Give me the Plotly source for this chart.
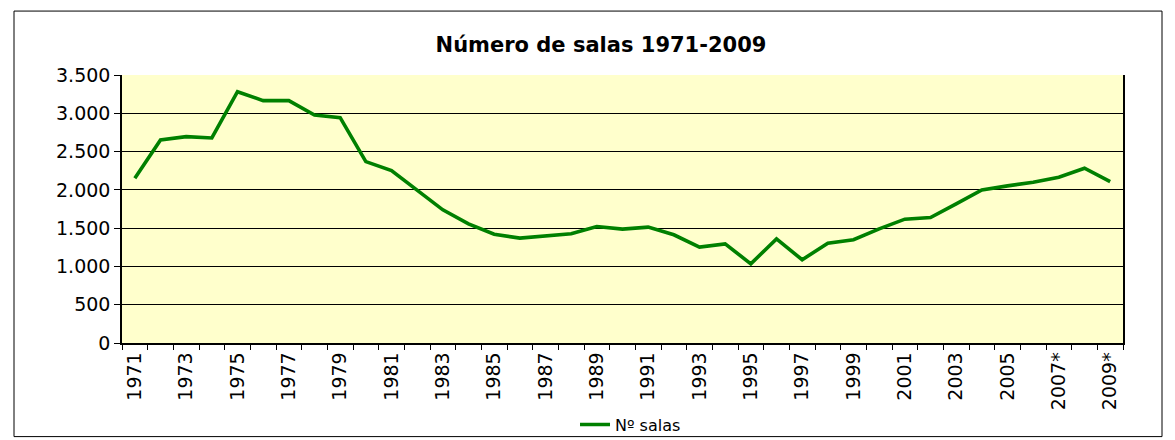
import plotly.graph_objects as go

years = [str(y) for y in range(1971, 2007)] + ["2007*", "2008*", "2009*"]
salas = [2152, 2652, 2695, 2678, 3282, 3165, 3165, 2978, 2943, 2369,
         2252, 1995, 1739, 1556, 1420, 1370, 1400, 1426, 1521, 1487,
         1513, 1413, 1252, 1295, 1034, 1360, 1087, 1304, 1348, 1491,
         1617, 1638, 1817, 2000, 2052, 2100, 2165, 2283, 2108]
tick_labels = [y if i % 2 == 0 else "" for i, y in enumerate(years)]
y_ticks = [0, 500, 1000, 1500, 2000, 2500, 3000, 3500]

FONT = "DejaVu Sans, Verdana, sans-serif"

fig = go.Figure()
fig.add_trace(go.Scatter(
    x=years, y=salas, mode="lines", name="Nº salas",
    line=dict(color="#008000", width=3.6),
))

W, H = 1175, 440
L, R, T, B = 122, 1123, 75, 343.3
pw, ph = R - L, B - T

def px(x):
    return (x - L) / pw

def py(y):
    return (B - y) / ph

fig.update_layout(
    width=W, height=H,
    margin=dict(l=L, r=W - R, t=T, b=H - B, pad=0, autoexpand=False),
    paper_bgcolor="white",
    plot_bgcolor="#FFFFCC",
    separators=",.",
    font=dict(family=FONT, color="black", size=19),
    title=dict(text="<b>Número de salas 1971-2009</b>", x=601 / W, xanchor="center",
               xref="container", y=1 - 45 / H, yanchor="middle", yref="container",
               font=dict(family=FONT, size=21, color="black")),
    showlegend=True,
    legend=dict(orientation="h", x=0.508, xanchor="center", y=py(425), yanchor="middle",
                font=dict(family=FONT, size=16, color="black"),
                bgcolor="rgba(0,0,0,0)", itemwidth=30, tracegroupgap=0),
    xaxis=dict(
        type="category", categoryorder="array", categoryarray=years,
        tickmode="array", tickvals=years, ticktext=tick_labels,
        tickangle=-90, tickson="boundaries", ticks="outside", ticklen=5,
        tickcolor="black", tickwidth=1,
        showline=True, linecolor="black", linewidth=1.5, mirror=False,
        showgrid=False, zeroline=False,
        tickfont=dict(family=FONT, size=19, color="black"),
        range=[-0.5, len(years) - 0.5],
    ),
    yaxis=dict(
        range=[0, 3500], tickmode="array", tickvals=y_ticks,
        tickformat=",d", ticks="outside", ticklen=6, tickcolor="black",
        showline=True, linecolor="black", linewidth=1.5, mirror=True,
        showgrid=True, gridcolor="black", gridwidth=1, zeroline=False,
        tickfont=dict(family=FONT, size=19, color="black"),
    ),
    shapes=[dict(type="rect", xref="paper", yref="paper",
                 x0=px(14), x1=px(1162), y0=py(437), y1=py(11),
                 line=dict(color="black", width=1), fillcolor="rgba(0,0,0,0)",
                 layer="below")],
)

fig.write_html("out.html", config={"displayModeBar": False},
               post_script="document.body.style.margin='0';document.body.style.overflow='hidden';")
